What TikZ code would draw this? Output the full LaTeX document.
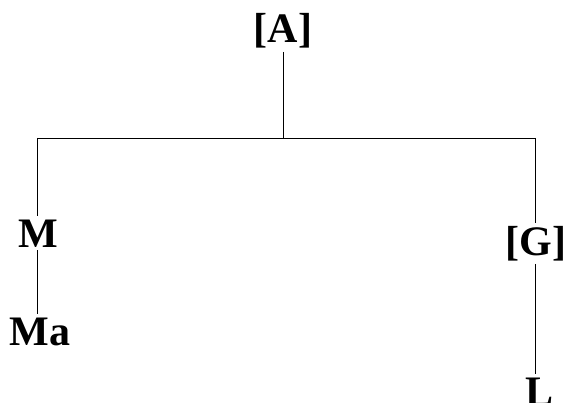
\documentclass[tikz,border=0pt]{standalone}
\usepackage{fontspec}
\setmainfont{Liberation Serif}
\begin{document}
\begin{tikzpicture}[x=1pt,y=-1pt,
  lbl/.style={font=\fontsize{42}{48}\selectfont\bfseries, inner sep=3pt, anchor=base},
  edge/.style={draw=black, line width=0.8pt}]
\useasboundingbox (0,0) rectangle (569,403);
% labels
\node[lbl] (a)  at (283,43)  {[A]};
\node[lbl] (m)  at (38,247)  {M};
\node[lbl] (ma) at (40,345)  {Ma};
\node[lbl] (g)  at (536,255) {[G]};
\node[lbl] (l)  at (539,405) {L};
% branch points
\coordinate (top)  at (283,138);
\coordinate (barL) at (37.5,138);
\coordinate (barR) at (535.5,138);
% tree edges
\draw[edge] (a.south) -- (top);
\draw[edge] (barL) -- (barR);
\draw[edge] (barL) -- (barL |- m.north);
\draw[edge] (barL |- m.south) -- (barL |- ma.north);
\draw[edge] (barR) -- (barR |- g.north);
\draw[edge] (barR |- g.south) -- (barR |- l.north);
\end{tikzpicture}
\end{document}
